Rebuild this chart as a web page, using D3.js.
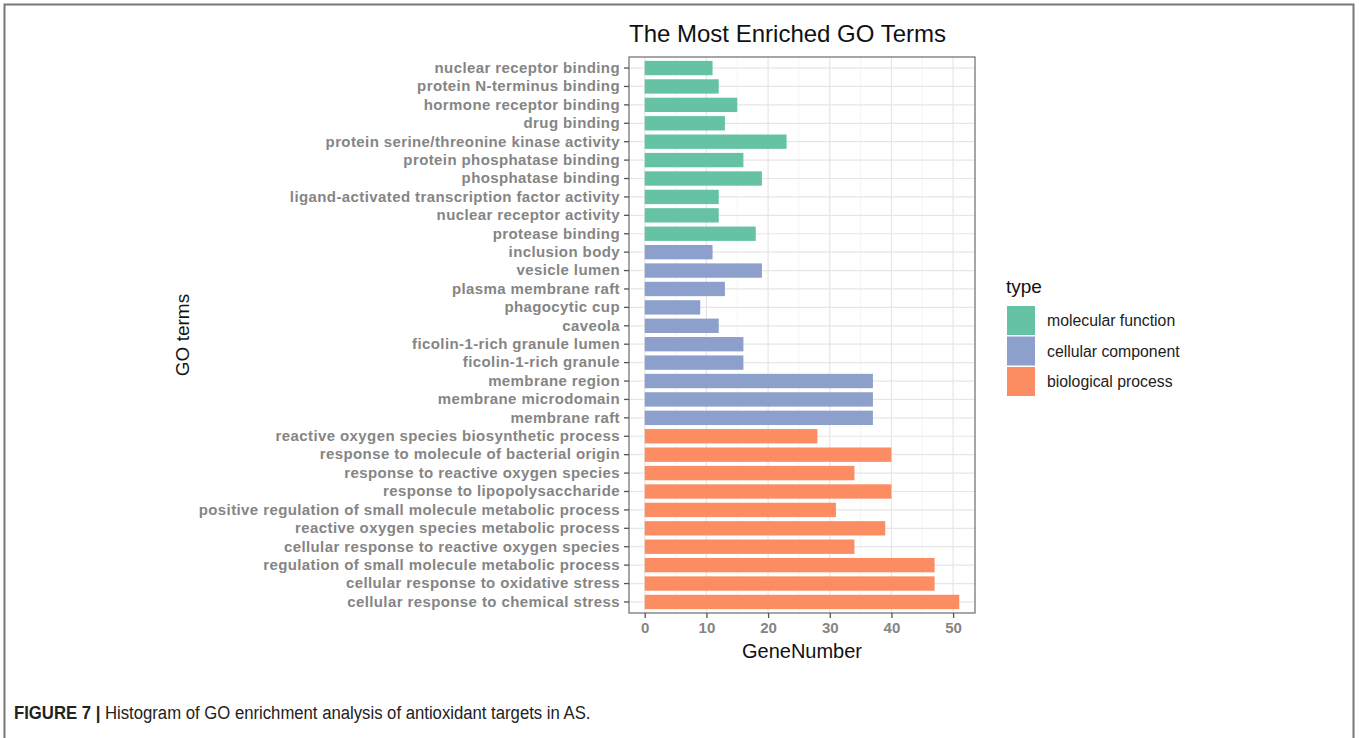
<!DOCTYPE html>
<html>
<head>
<meta charset="utf-8">
<script src="https://cdn.jsdelivr.net/npm/d3@7"></script>
<style>
  body { margin: 0; background: #fff; }
  svg { display: block; }
</style>
</head>
<body>
<svg id="chart" width="1359" height="738"></svg>
<script>
// GO terms, top to bottom
const terms = [
    "nuclear receptor binding", "protein N-terminus binding", "hormone receptor binding",
    "drug binding", "protein serine/threonine kinase activity", "protein phosphatase binding",
    "phosphatase binding", "ligand-activated transcription factor activity",
    "nuclear receptor activity", "protease binding",
    "inclusion body", "vesicle lumen", "plasma membrane raft", "phagocytic cup", "caveola",
    "ficolin-1-rich granule lumen", "ficolin-1-rich granule", "membrane region",
    "membrane microdomain", "membrane raft",
    "reactive oxygen species biosynthetic process", "response to molecule of bacterial origin",
    "response to reactive oxygen species", "response to lipopolysaccharide",
    "positive regulation of small molecule metabolic process",
    "reactive oxygen species metabolic process", "cellular response to reactive oxygen species",
    "regulation of small molecule metabolic process", "cellular response to oxidative stress",
    "cellular response to chemical stress"
];
const geneNumber = [11, 12, 15, 13, 23, 16, 19, 12, 12, 18,
                    11, 19, 13, 9, 12, 16, 16, 37, 37, 37,
                    28, 40, 34, 40, 31, 39, 34, 47, 47, 51];
const termType = [
    "molecular function", "molecular function", "molecular function", "molecular function",
    "molecular function", "molecular function", "molecular function", "molecular function",
    "molecular function", "molecular function",
    "cellular component", "cellular component", "cellular component", "cellular component",
    "cellular component", "cellular component", "cellular component", "cellular component",
    "cellular component", "cellular component",
    "biological process", "biological process", "biological process", "biological process",
    "biological process", "biological process", "biological process", "biological process",
    "biological process", "biological process"
];
const types = ["molecular function", "cellular component", "biological process"];
const typeColors = ["#66c2a5", "#8da0cb", "#fc8d62"];
const xTicks = [0, 10, 20, 30, 40, 50];

const rows = terms.map((t, i) => ({ term: t, value: geneNumber[i], type: termType[i] }));

const svg = d3.select("#chart");
const font = "'Liberation Sans', Arial, sans-serif";

// outer figure frame
svg.append("path")
    .attr("d", "M4.5,738 L4.5,4.5 L1353.5,4.5 L1353.5,738")
    .attr("fill", "none")
    .attr("stroke", "#777")
    .attr("stroke-width", 2);

const panel = { left: 629, top: 57, right: 975, bottom: 613 };

const x = d3.scaleLinear()
    .domain([-2.55, 53.55])
    .range([panel.left, panel.right]);

const bandStep = (panel.bottom - panel.top) / (terms.length - 1 + 1.2);
const y = d3.scaleBand()
    .domain(terms)
    .range([panel.top + 0.6 * bandStep - bandStep / 2, panel.bottom - 0.6 * bandStep + bandStep / 2])
    .paddingInner(0.22)
    .paddingOuter(0.11);

const color = d3.scaleOrdinal().domain(types).range(typeColors);

// grid: minor then major
const g = svg.append("g");
const minor = [5, 15, 25, 35, 45];
g.selectAll("line.minor").data(minor).enter().append("line")
    .attr("x1", d => x(d)).attr("x2", d => x(d))
    .attr("y1", panel.top).attr("y2", panel.bottom)
    .attr("stroke", "#f2f2f2").attr("stroke-width", 0.8);
g.selectAll("line.major").data(xTicks).enter().append("line")
    .attr("x1", d => x(d)).attr("x2", d => x(d))
    .attr("y1", panel.top).attr("y2", panel.bottom)
    .attr("stroke", "#e6e6e6").attr("stroke-width", 1.2);
g.selectAll("line.hgrid").data(terms).enter().append("line")
    .attr("x1", panel.left).attr("x2", panel.right)
    .attr("y1", d => y(d) + y.bandwidth() / 2).attr("y2", d => y(d) + y.bandwidth() / 2)
    .attr("stroke", "#e6e6e6").attr("stroke-width", 1.2);

// bars
svg.append("g").selectAll("rect")
    .data(rows)
    .enter().append("rect")
    .attr("x", x(0))
    .attr("y", d => y(d.term))
    .attr("width", d => x(d.value) - x(0))
    .attr("height", y.bandwidth())
    .attr("fill", d => color(d.type));

// panel border
svg.append("rect")
    .attr("x", panel.left).attr("y", panel.top)
    .attr("width", panel.right - panel.left)
    .attr("height", panel.bottom - panel.top)
    .attr("fill", "none")
    .attr("stroke", "#777")
    .attr("stroke-width", 1.3);

// y axis
const yAxis = svg.append("g")
    .attr("transform", `translate(${panel.left},0)`)
    .call(d3.axisLeft(y).tickSize(5).tickPadding(4));
yAxis.select(".domain").remove();
yAxis.selectAll("line").attr("stroke", "#555").attr("stroke-width", 1.3);
yAxis.selectAll("text")
    .attr("fill", "#858585")
    .style("font-family", font)
    .style("font-size", "15px")
    .style("letter-spacing", "0.4px")
    .style("font-weight", "bold");

// x axis
const xAxis = svg.append("g")
    .attr("transform", `translate(0,${panel.bottom})`)
    .call(d3.axisBottom(x).tickValues(xTicks).tickSize(5).tickPadding(4));
xAxis.select(".domain").remove();
xAxis.selectAll("line").attr("stroke", "#555").attr("stroke-width", 1.3);
xAxis.selectAll("text")
    .attr("fill", "#858585")
    .style("font-family", font)
    .style("font-size", "15px")
    .style("font-weight", "bold");

// titles
svg.append("text")
    .attr("x", panel.left)
    .attr("y", 42)
    .style("font-family", font)
    .style("font-size", "24px")
    .attr("fill", "#111")
    .text("The Most Enriched GO Terms");

svg.append("text")
    .attr("x", (panel.left + panel.right) / 2)
    .attr("y", 658)
    .attr("text-anchor", "middle")
    .style("font-family", font)
    .style("font-size", "20px")
    .attr("fill", "#111")
    .text("GeneNumber");

svg.append("text")
    .attr("transform", `translate(189,${(panel.top + panel.bottom) / 2}) rotate(-90)`)
    .attr("text-anchor", "middle")
    .style("font-family", font)
    .style("font-size", "19px")
    .attr("fill", "#111")
    .text("GO terms");

// legend
const legend = svg.append("g").attr("transform", "translate(1006,0)");
legend.append("text")
    .attr("x", 0).attr("y", 293)
    .style("font-family", font)
    .style("font-size", "19px")
    .attr("fill", "#111")
    .text("type");
const item = legend.selectAll("g.item").data(types).enter().append("g")
    .attr("transform", (d, i) => `translate(0,${306 + i * 30.5})`);
item.append("rect")
    .attr("x", 1).attr("y", 0)
    .attr("width", 28).attr("height", 29)
    .attr("fill", d => color(d));
item.append("text")
    .attr("x", 41).attr("y", 20)
    .style("font-family", font)
    .style("font-size", "15.8px")
    .attr("fill", "#222")
    .text(d => d);

// caption (condensed look)
const cap = svg.append("text")
    .attr("transform", "translate(14,719) scale(0.88,1)")
    .style("font-family", font)
    .style("font-size", "19px")
    .attr("fill", "#222");
cap.append("tspan").style("font-weight", "bold").text("FIGURE 7 | ");
cap.append("tspan").text("Histogram of GO enrichment analysis of antioxidant targets in AS.");
</script>
</body>
</html>
